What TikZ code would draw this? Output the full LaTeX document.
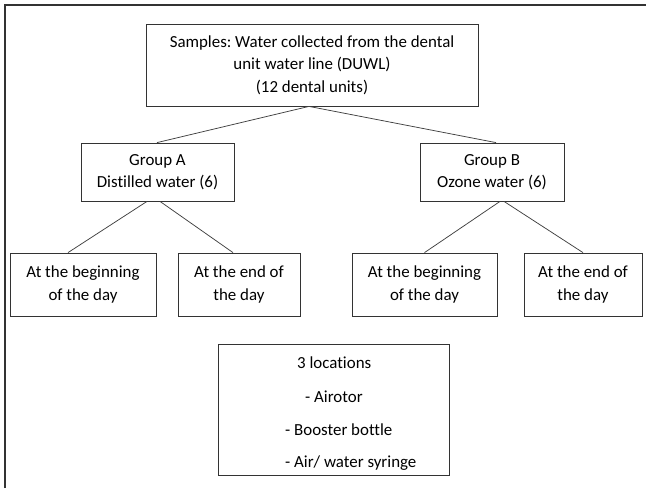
\documentclass[tikz,border=0pt]{standalone}
\usepackage{fontspec}
\setmainfont{Carlito}[Ligatures=CommonOff]
\frenchspacing
\begin{document}
\begin{tikzpicture}[x=1pt,y=-1pt,
  box/.style={draw=black!80, line width=0.8pt, rectangle, align=center, inner sep=0pt,
    font=\fontsize{16.9}{22.5}\selectfont, text=black},
  txt/.style={inner sep=0pt, font=\fontsize{16.9}{18}\selectfont, text=black},
  link/.style={draw=black!75, line width=0.75pt},
  frame/.style={draw=black!80, line width=1.6pt}]
\useasboundingbox (0,0) rectangle (646,488);
\draw[frame] (5,488) -- (5,5) -- (646,5);
% top
\node[box, minimum width=332pt, minimum height=82pt] (top) at (312,65)
  {Samples: Water collected from the dental\\unit water line (DUWL)\\(12 dental units)};
% groups
\node[box, minimum width=153pt, minimum height=58pt] (ga) at (157.5,172)
  {Group A\\Distilled water (6)};
\node[box, minimum width=144pt, minimum height=58pt] (gb) at (492,172)
  {Group B\\Ozone water (6)};
% leaves
\node[box, minimum width=146pt, minimum height=63pt] (a1) at (83,284.5)
  {At the beginning\\of the day};
\node[box, minimum width=122pt, minimum height=63pt] (a2) at (239,284.5)
  {At the end of\\the day};
\node[box, minimum width=145pt, minimum height=63pt] (b1) at (424.5,284.5)
  {At the beginning\\of the day};
\node[box, minimum width=118pt, minimum height=63pt] (b2) at (583,284.5)
  {At the end of\\the day};
% locations
\node[box, minimum width=231pt, minimum height=131pt] (loc) at (333.5,409.5) {};
\node[txt, anchor=west] (l1) at (297,363) {3 locations};
\node[txt, anchor=west] (l2) at (305,397) {- Airotor};
\node[txt, anchor=west] (l3) at (285,430) {- Booster bottle};
\node[txt, anchor=west] (l4) at (285,463) {- Air/ water syringe};
% connectors
\coordinate (tb) at ([xshift=-3pt]top.south);
\draw[link] (tb) -- ([xshift=-0.5pt]ga.north);
\draw[link] (tb) -- ([xshift=4pt]gb.north);
\draw[link] ([xshift=-10.5pt]ga.south) -- ([xshift=-15pt]a1.north);
\draw[link] ([xshift=2.5pt]ga.south) -- ([xshift=-6pt]a2.north);
\draw[link] ([xshift=8pt]gb.south) -- ([xshift=0pt]b1.north);
\draw[link] ([xshift=12pt]gb.south) -- ([xshift=0pt]b2.north);
\end{tikzpicture}
\end{document}
